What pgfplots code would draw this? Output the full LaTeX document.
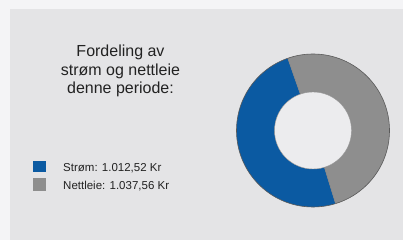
\documentclass[border=0pt]{standalone}
\usepackage{pgfplots}
\pgfplotsset{compat=1.18}
\usepackage{pgfplotstable}
\usepackage{fontspec}
\setmainfont{Liberation Sans}
\definecolor{panel}{HTML}{E4E4E6}
\definecolor{outerbg}{HTML}{F4F4F6}
\definecolor{stromblue}{HTML}{0B5AA2}
\definecolor{nettgray}{HTML}{8E8E8E}
\definecolor{hole}{HTML}{ECECEE}
\definecolor{txt}{HTML}{222222}

\pgfplotstableread{
name value
Strom 1012.52
Nettleie 1037.56
}\shares

\begin{document}
\begin{tikzpicture}
\begin{axis}[
  scale only axis, width=403pt, height=240pt,
  xmin=0, xmax=403, ymin=0, ymax=240,
  hide axis, clip=false,
]
\fill[outerbg] (axis cs:0,0) rectangle (axis cs:403,240);
\fill[panel] (axis cs:10,0) rectangle (axis cs:403,231);

\pgfplotstablegetelem{0}{value}\of\shares \let\va\pgfplotsretval
\pgfplotstablegetelem{1}{value}\of\shares \let\vb\pgfplotsretval
\pgfmathsetmacro{\fr}{(\va/1000)/((\va+\vb)/1000)}
\pgfmathsetmacro{\sa}{109.3}
\pgfmathsetmacro{\ea}{\sa+360*\fr}
\pgfmathsetmacro{\eb}{\sa+360}
\def\Ro{76.5pt}
\def\Ri{38.5pt}
\begin{scope}[shift={(axis cs:313,109.5)}]
  \fill[stromblue] (\sa:\Ro) arc[start angle=\sa, end angle=\ea, radius=\Ro]
     -- (\ea:\Ri) arc[start angle=\ea, end angle=\sa, radius=\Ri] -- cycle;
  \fill[nettgray] (\ea:\Ro) arc[start angle=\ea, end angle=\eb, radius=\Ro]
     -- (\eb:\Ri) arc[start angle=\eb, end angle=\ea, radius=\Ri] -- cycle;
  \fill[hole] (0,0) circle[radius=\Ri];
  \draw[black!65, line width=0.6pt] (0,0) circle[radius=\Ro];
  \draw[black!45, line width=0.4pt] (0,0) circle[radius=\Ri];
  \draw[black!50, line width=0.4pt] (\sa:\Ri) -- (\sa:\Ro);
  \draw[black!50, line width=0.4pt] (\ea:\Ri) -- (\ea:\Ro);
\end{scope}

\node[anchor=base, text=txt, font=\fontsize{16}{19}\selectfont, inner sep=0pt] at (axis cs:120.5,183) {Fordeling av};
\node[anchor=base, text=txt, font=\fontsize{16}{19}\selectfont, inner sep=0pt] at (axis cs:120.5,164.5) {strøm og nettleie};
\node[anchor=base, text=txt, font=\fontsize{16}{19}\selectfont, inner sep=0pt] at (axis cs:120.5,146) {denne periode:};

\fill[stromblue] (axis cs:33,78.5) rectangle (axis cs:46,67.5);
\fill[nettgray] (axis cs:33,61.5) rectangle (axis cs:46,48.5);
\node[anchor=base west, text=txt, font=\fontsize{11.5}{14}\selectfont, inner sep=0pt] at (axis cs:63,68.3) {Strøm: 1.012,52 Kr};
\node[anchor=base west, text=txt, font=\fontsize{11.5}{14}\selectfont, inner sep=0pt] at (axis cs:63,50.7) {Nettleie: 1.037,56 Kr};
\end{axis}
\end{tikzpicture}
\end{document}
